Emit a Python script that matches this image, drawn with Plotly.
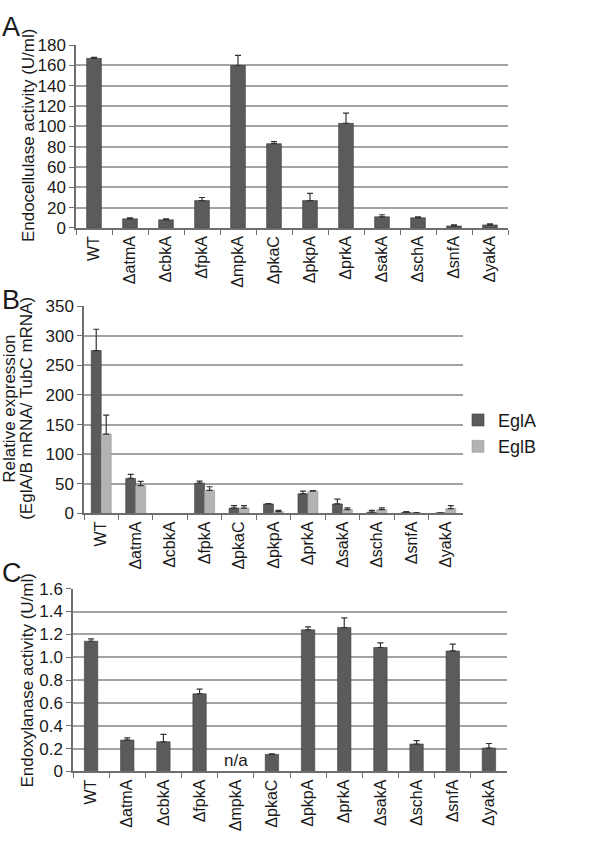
import plotly.graph_objects as go

# ---------------- data ----------------
cats_a = ["WT", "ΔatmA", "ΔcbkA", "ΔfpkA", "ΔmpkA", "ΔpkaC", "ΔpkpA", "ΔprkA",
          "ΔsakA", "ΔschA", "ΔsnfA", "ΔyakA"]
endocellulase = [167, 9, 8, 27, 160, 83, 27, 103, 11, 10, 2, 3]
endocellulase_err = [1, 1, 1, 3, 10, 2, 7, 10, 2, 1, 1, 1]

cats_b = ["WT", "ΔatmA", "ΔcbkA", "ΔfpkA", "ΔpkaC", "ΔpkpA", "ΔprkA",
          "ΔsakA", "ΔschA", "ΔsnfA", "ΔyakA"]
egla = [275, 59, None, 51, 9, 16, 33, 16, 2, 1.5, 1]
egla_err = [36, 7, None, 3.5, 4, 0.5, 4.5, 8, 3, 1.5, None]
eglb = [134, 47, None, 39, 9, 3, 37.5, 6.5, 6.5, 1, 8]
eglb_err = [32, 7, None, 6, 4, 2, 1, 3, 3, 0.5, 5]

cats_c = ["WT", "ΔatmA", "ΔcbkA", "ΔfpkA", "ΔmpkA", "ΔpkaC", "ΔpkpA", "ΔprkA",
          "ΔsakA", "ΔschA", "ΔsnfA", "ΔyakA"]
endoxylanase = [1.14, 0.275, 0.26, 0.68, None, 0.15, 1.24, 1.26, 1.085, 0.24, 1.055, 0.205]
endoxylanase_err = [0.02, 0.02, 0.065, 0.04, None, 0.005, 0.025, 0.085, 0.04, 0.03, 0.06, 0.04]

ticks_a = [0, 20, 40, 60, 80, 100, 120, 140, 160, 180]
ticks_b = [0, 50, 100, 150, 200, 250, 300, 350]
ticks_c = [0, 0.2, 0.4, 0.6, 0.8, 1.0, 1.2, 1.4, 1.6]
ticktext_c = ["0", "0.2", "0.4", "0.6", "0.8", "1.0", "1.2", "1.4", "1.6"]

# ---------------- style ----------------
W, H = 600, 846
DARK = "#5b5b5b"
LIGHT = "#b3b3b3"
OUTLINE = "#3c3c3c"
GRID = "#a3a3a3"
AXIS = "#6e6e6e"
TXT = "#1a1a1a"
NARROW = "Liberation Sans Narrow, Arial Narrow, Liberation Sans, Arial"
SANS = "Liberation Sans, Arial"
NUMFONT = dict(family=NARROW, size=17, color=TXT)
CATFONT = dict(family=SANS, size=16, color=TXT)
TITLEFONT = dict(family=SANS, size=17, color=TXT)


def px_x(x):
    return x / W


def px_y(y):
    return 1 - y / H


def err(arr):
    return dict(type="data", symmetric=False, array=arr,
                arrayminus=[0 if v is not None else None for v in arr],
                color="#333333", thickness=1.2, width=3)


fig = go.Figure()

# Panel A
wa = 0.41
fig.add_trace(go.Bar(x=cats_a, y=endocellulase, error_y=err(endocellulase_err),
                     marker=dict(color=DARK, line=dict(color=OUTLINE, width=0.6)),
                     width=wa, offset=-wa / 2, xaxis="x", yaxis="y", showlegend=False))

# Panel B
wb = 0.29
fig.add_trace(go.Bar(x=cats_b, y=egla, error_y=err(egla_err), name="EglA",
                     marker=dict(color=DARK, line=dict(color=OUTLINE, width=0.6)),
                     width=wb, offset=-wb, xaxis="x2", yaxis="y2"))
fig.add_trace(go.Bar(x=cats_b, y=eglb, error_y=err(eglb_err), name="EglB",
                     marker=dict(color=LIGHT, line=dict(color="#9a9a9a", width=0.6)),
                     width=wb, offset=0, xaxis="x2", yaxis="y2"))

# Panel C
wc = 0.37
fig.add_trace(go.Bar(x=cats_c, y=endoxylanase, error_y=err(endoxylanase_err),
                     marker=dict(color=DARK, line=dict(color=OUTLINE, width=0.6)),
                     width=wc, offset=-wc / 2, xaxis="x3", yaxis="y3", showlegend=False))

xcommon = dict(type="category", showgrid=False, zeroline=False, showline=True,
               linecolor=AXIS, linewidth=1.5, ticks="outside", tickson="boundaries",
               ticklen=5, tickcolor=AXIS, tickwidth=1.2, tickangle=-90,
               tickfont=CATFONT, fixedrange=True)
ycommon = dict(showgrid=True, gridcolor=GRID, gridwidth=1.6, zeroline=False,
               showline=True, linecolor=AXIS, linewidth=1.5, ticks="outside",
               ticklen=5, tickcolor=AXIS, tickwidth=1.2, tickfont=NUMFONT,
               fixedrange=True)

fig.update_layout(
    width=W, height=H,
    margin=dict(l=0, r=0, t=0, b=0),
    paper_bgcolor="white", plot_bgcolor="white",
    font=dict(family=SANS, color=TXT),
    xaxis=dict(xcommon, domain=[px_x(76), px_x(508)], anchor="y"),
    yaxis=dict(ycommon, domain=[px_y(224), px_y(37)], anchor="x",
               range=[0, 180], tickvals=ticks_a),
    xaxis2=dict(xcommon, domain=[px_x(84), px_x(463)], anchor="y2"),
    yaxis2=dict(ycommon, domain=[px_y(516), px_y(304)], anchor="x2",
                range=[0, 350], tickvals=ticks_b),
    xaxis3=dict(xcommon, domain=[px_x(73), px_x(507)], anchor="y3"),
    yaxis3=dict(ycommon, domain=[px_y(780), px_y(593)], anchor="x3",
                range=[0, 1.6], tickvals=ticks_c, ticktext=ticktext_c),
    legend=dict(x=px_x(458), y=px_y(434), xanchor="left", yanchor="middle",
                font=dict(family=NARROW, size=18, color=TXT),
                bgcolor="rgba(0,0,0,0)", tracegroupgap=0, itemwidth=30),
    showlegend=True,
)

for letter, ytop in [("A", 1), ("B", 280), ("C", 560)]:
    fig.add_annotation(xref="paper", yref="paper", x=px_x(0), y=px_y(ytop),
                       xanchor="left", yanchor="top", showarrow=False, text=letter,
                       font=dict(family=SANS, size=27, color=TXT))

fig.add_annotation(xref="paper", yref="paper", x=px_x(28), y=px_y(129),
                   text="Endocellulase activity (U/ml)", textangle=-90, showarrow=False,
                   font=TITLEFONT, xanchor="center", yanchor="middle")
fig.add_annotation(xref="paper", yref="paper", x=px_x(10), y=px_y(409),
                   text="Relative expression", textangle=-90,
                   showarrow=False, font=TITLEFONT, xanchor="center", yanchor="middle")
fig.add_annotation(xref="paper", yref="paper", x=px_x(27), y=px_y(409),
                   text="(EglA/B mRNA/ TubC mRNA)", textangle=-90,
                   showarrow=False, font=TITLEFONT, xanchor="center", yanchor="middle")
fig.add_annotation(xref="paper", yref="paper", x=px_x(28), y=px_y(687),
                   text="Endoxylanase activity (U/ml)", textangle=-90, showarrow=False,
                   font=TITLEFONT, xanchor="center", yanchor="middle")
fig.add_annotation(xref="x3", yref="y3", x="ΔmpkA", y=0.1, text="n/a", showarrow=False,
                   font=dict(family=SANS, size=17, color=TXT))

fig.write_html("out.html", config={"displayModeBar": False},
               post_script="document.body.style.margin='0px';")
